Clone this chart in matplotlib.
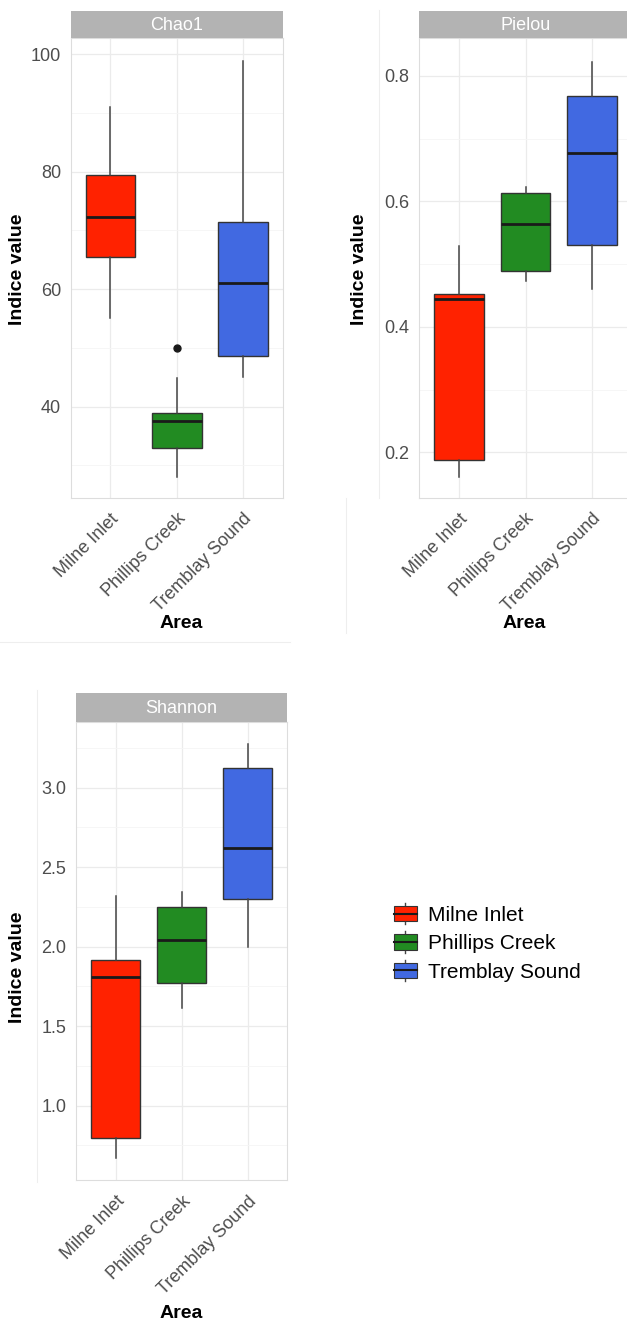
import matplotlib
matplotlib.use("Agg")
import matplotlib.pyplot as plt
from matplotlib.patches import Rectangle, Patch
from matplotlib.lines import Line2D
from matplotlib.legend_handler import HandlerBase

plt.rcParams['font.family'] = ['Liberation Sans', 'DejaVu Sans']

W, H = 627, 1321

areas = ["Milne Inlet", "Phillips Creek", "Tremblay Sound"]
colors = ["#FF2200", "#228B22", "#4169E1"]

# Chao1 box stats
chao1_lo = [55.1, 28.1, 45.1]
chao1_q1 = [65.5, 32.9, 48.6]
chao1_med = [72.2, 37.6, 61.1]
chao1_q3 = [79.4, 38.9, 71.5]
chao1_hi = [91.0, 44.9, 98.9]
chao1_out = [[], [50.0], []]

# Pielou
pielou_lo = [0.161, 0.473, 0.460]
pielou_q1 = [0.187, 0.489, 0.530]
pielou_med = [0.444, 0.564, 0.677]
pielou_q3 = [0.452, 0.614, 0.768]
pielou_hi = [0.529, 0.623, 0.823]
pielou_out = [[], [], []]

# Shannon
shannon_lo = [0.673, 1.616, 1.996]
shannon_q1 = [0.800, 1.773, 2.298]
shannon_med = [1.808, 2.040, 2.620]
shannon_q3 = [1.914, 2.249, 3.126]
shannon_hi = [2.320, 2.342, 3.273]
shannon_out = [[], [], []]


def px(x, y):
    return x / W, 1 - y / H


def stats(lo, q1, med, q3, hi, out):
    return [dict(whislo=lo[i], q1=q1[i], med=med[i], q3=q3[i], whishi=hi[i],
                 fliers=out[i], label=areas[i]) for i in range(len(areas))]


def panel(fig, left, top, right, bottom, strip_h, title, st, ylim, major, minor, fmt):
    x0, y0 = px(left, bottom)
    x1, y1 = px(right, top)
    ax = fig.add_axes([x0, y0, x1 - x0, y1 - y0])
    bp = ax.bxp(st, positions=[1, 2, 3], widths=0.75, patch_artist=True, showcaps=False,
                boxprops=dict(edgecolor="#333333", linewidth=1.0),
                medianprops=dict(color="#1a1a1a", linewidth=2.0),
                whiskerprops=dict(color="#444444", linewidth=1.1),
                flierprops=dict(marker="o", markerfacecolor="#1a1a1a",
                                markeredgecolor="#1a1a1a", markersize=5))
    for patch, c in zip(bp["boxes"], colors):
        patch.set_facecolor(c)
    ax.set_xlim(0.4, 3.6)
    ax.set_ylim(*ylim)
    ax.set_yticks(major)
    ax.set_yticklabels([fmt.format(v) for v in major])
    ax.set_yticks(minor, minor=True)
    ax.set_xticks([1, 2, 3])
    ax.set_xticklabels(areas, rotation=45, ha="right", va="top", rotation_mode="anchor")
    ax.tick_params(axis="both", which="both", length=0, labelsize=13, colors="#4D4D4D")
    ax.tick_params(axis="y", pad=7)
    ax.tick_params(axis="x", pad=9)
    ax.grid(True, which="major", color="#EBEBEB", linewidth=0.9)
    ax.grid(True, which="minor", axis="y", color="#F5F5F5", linewidth=0.6)
    ax.set_axisbelow(True)
    for s in ax.spines.values():
        s.set_color("#DDDDDD")
        s.set_linewidth(0.8)
    # strip
    sx0, sy0 = px(left, top)
    sx1, sy1 = px(right, top - strip_h)
    sax = fig.add_axes([sx0, sy0, sx1 - sx0, sy1 - sy0])
    sax.set_facecolor("#B3B3B3")
    sax.set_xticks([])
    sax.set_yticks([])
    for s in sax.spines.values():
        s.set_visible(False)
    sax.text(0.5, 0.47, title, transform=sax.transAxes, ha="center", va="center",
             color="white", fontsize=13)
    return ax


class BoxHandler(HandlerBase):
    def create_artists(self, legend, orig_handle, xdescent, ydescent, width, height, fontsize, trans):
        c = orig_handle.get_facecolor()
        cx = width / 2 - xdescent
        whisk = Line2D([cx, cx], [-ydescent - height * 0.2, -ydescent + height * 1.2],
                       color="#444444", lw=1.0, transform=trans)
        rect = Rectangle((-xdescent, -ydescent), width, height, facecolor=c,
                         edgecolor="#333333", lw=0.8, transform=trans)
        med = Line2D([-xdescent, width - xdescent], [height / 2 - ydescent] * 2,
                     color="#1a1a1a", lw=1.5, transform=trans)
        return [whisk, rect, med]


fig = plt.figure(figsize=(W / 100, H / 100), dpi=100)

# faint edges of the pasted panels
for xs, ys in [([379, 379], [10, 498]), ([346, 346], [498, 633]),
               ([37, 37], [690, 1182]), ([0, 290], [642, 642])]:
    fig.add_artist(Line2D([x / W for x in xs], [1 - y / H for y in ys],
                          color="#EEEEEE", lw=0.8, transform=fig.transFigure))

panel(fig, 70.7, 38.3, 282.7, 497.7, 27.6, "Chao1",
      stats(chao1_lo, chao1_q1, chao1_med, chao1_q3, chao1_hi, chao1_out),
      (24.5, 102.7), [40, 60, 80, 100], [30, 50, 70, 90], "{:.0f}")
panel(fig, 419, 38.3, 632, 497.7, 27.6, "Pielou",
      stats(pielou_lo, pielou_q1, pielou_med, pielou_q3, pielou_hi, pielou_out),
      (0.1276, 0.86), [0.2, 0.4, 0.6, 0.8], [0.3, 0.5, 0.7], "{:.1f}")
panel(fig, 76, 721.7, 287.3, 1180, 28.4, "Shannon",
      stats(shannon_lo, shannon_q1, shannon_med, shannon_q3, shannon_hi, shannon_out),
      (0.533, 3.415), [1.0, 1.5, 2.0, 2.5, 3.0], [0.75, 1.25, 1.75, 2.25, 2.75, 3.25], "{:.1f}")

# axis titles
for (x, y) in [(18, 269), (360, 269), (18, 967)]:
    fig.text(*px(x, y), "Indice value", rotation=90, ha="center", va="center",
             fontsize=14, fontweight="bold", color="black")
for (x, y) in [(181.7, 623), (524, 623), (181.7, 1313)]:
    fig.text(*px(x, y), "Area", ha="center", va="center",
             fontsize=14, fontweight="bold", color="black")

handles = [Patch(facecolor=c, label=a) for c, a in zip(colors, areas)]
lx, ly = px(394, 906)
fig.legend(handles=handles, loc="upper left", bbox_to_anchor=(lx, ly), frameon=False,
           fontsize=15, handler_map={Patch: BoxHandler()}, handlelength=1.09,
           handleheight=0.75, handletextpad=0.55, labelspacing=0.45, borderpad=0,
           borderaxespad=0)

fig.savefig("out.png", dpi=100)
